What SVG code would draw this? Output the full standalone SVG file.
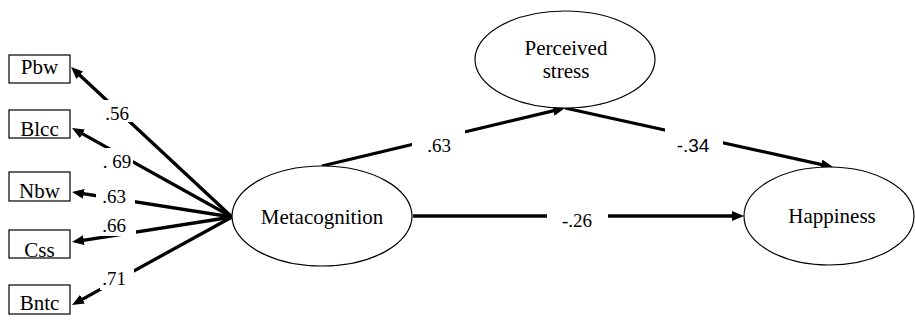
<svg xmlns="http://www.w3.org/2000/svg" width="915" height="325" viewBox="0 0 915 325" font-family="Liberation Serif">
  <style>
    .box { fill: #fff; stroke: #000; stroke-width: 1.2; }
    .oval { fill: #fff; stroke: #000; stroke-width: 1.2; }
    .name { font-size: 21px; fill: #000; text-anchor: middle; }
    .path { fill: none; stroke: #000; stroke-width: 3.3; marker-end: url(#head); }
    .coef { font-size: 19px; fill: #000; text-anchor: middle; }
    .mask { fill: #fff; }
  </style>
  <defs>
    <marker id="head" markerUnits="userSpaceOnUse" markerWidth="12" markerHeight="10" refX="4" refY="5" orient="auto">
      <path d="M0,0 L12,5 L0,10 z" fill="#000"/>
    </marker>
  </defs>
  <rect width="915" height="325" fill="#fff"/>

  <!-- paths with their coefficients -->
  <g id="connectors">
    <line class="path" x1="232" y1="217" x2="76.9" y2="72.5"/>
    <line class="path" x1="232" y1="217" x2="79" y2="131.9"/>
    <line class="path" x1="232" y1="217" x2="79.9" y2="193.2"/>
    <line class="path" x1="232" y1="217" x2="79.9" y2="240.8"/>
    <line class="path" x1="232" y1="217" x2="79" y2="301.1"/>
    <line class="path" x1="322" y1="166" x2="557.2" y2="109.9"/>
    <line class="path" x1="565" y1="108" x2="825.2" y2="165.3"/>
    <line class="path" x1="413" y1="216" x2="736" y2="216"/>

    <rect class="mask" x="104" y="100" width="28" height="22"/>
    <rect class="mask" x="101" y="148" width="32" height="24"/>
    <rect class="mask" x="96" y="188" width="39" height="18"/>
    <rect class="mask" x="98" y="216" width="38" height="20"/>
    <rect class="mask" x="100" y="266" width="34" height="24"/>
    <rect class="mask" x="412" y="128" width="53" height="30"/>
    <rect class="mask" x="665" y="128" width="58" height="30"/>
    <rect class="mask" x="547" y="205" width="61" height="26"/>

    <g font-family="Liberation Serif">
      <text class="coef" x="117" y="120">.56</text>
      <text class="coef" x="117" y="168">. 69</text>
      <text class="coef" x="114" y="203">.63</text>
      <text class="coef" x="114" y="232">.66</text>
      <text class="coef" x="114" y="285">.71</text>
      <text class="coef" x="439" y="152">.63</text>
      <text class="coef" x="577" y="227" font-size="20">-.26</text>
    </g>
    <text class="coef" x="693" y="152" font-family="Liberation Sans">-.34</text>
  </g>

  <!-- observed indicators -->
  <g id="pbw" font-family="Liberation Serif">
    <rect class="box" x="9" y="55" width="61" height="28"/>
    <text class="name" x="39.5" y="74">Pbw</text>
  </g>
  <g id="blcc" font-family="Liberation Serif">
    <rect class="box" x="9" y="110" width="61" height="28"/>
    <text class="name" x="39.5" y="136">Blcc</text>
  </g>
  <g id="nbw" font-family="Liberation Serif">
    <rect class="box" x="9" y="172" width="61" height="29"/>
    <text class="name" x="39.5" y="198">Nbw</text>
  </g>
  <g id="css" font-family="Liberation Serif">
    <rect class="box" x="9" y="230" width="61" height="28"/>
    <text class="name" x="39.5" y="257">Css</text>
  </g>
  <g id="bntc" font-family="Liberation Serif">
    <rect class="box" x="9" y="285" width="61" height="29"/>
    <text class="name" x="39.5" y="310">Bntc</text>
  </g>

  <!-- latent constructs -->
  <g id="metacognition" font-family="Liberation Serif">
    <ellipse class="oval" cx="322" cy="216" rx="90" ry="50"/>
    <text class="name" x="322" y="224">Metacognition</text>
  </g>
  <g id="perceived-stress" font-family="Liberation Serif">
    <ellipse class="oval" cx="565" cy="59.5" rx="90" ry="48.5"/>
    <text class="name" x="566" y="55">Perceived</text>
    <text class="name" x="566" y="78">stress</text>
  </g>
  <g id="happiness" font-family="Liberation Serif">
    <ellipse class="oval" cx="829" cy="216" rx="85" ry="49"/>
    <text class="name" x="832" y="223">Happiness</text>
  </g>
</svg>
